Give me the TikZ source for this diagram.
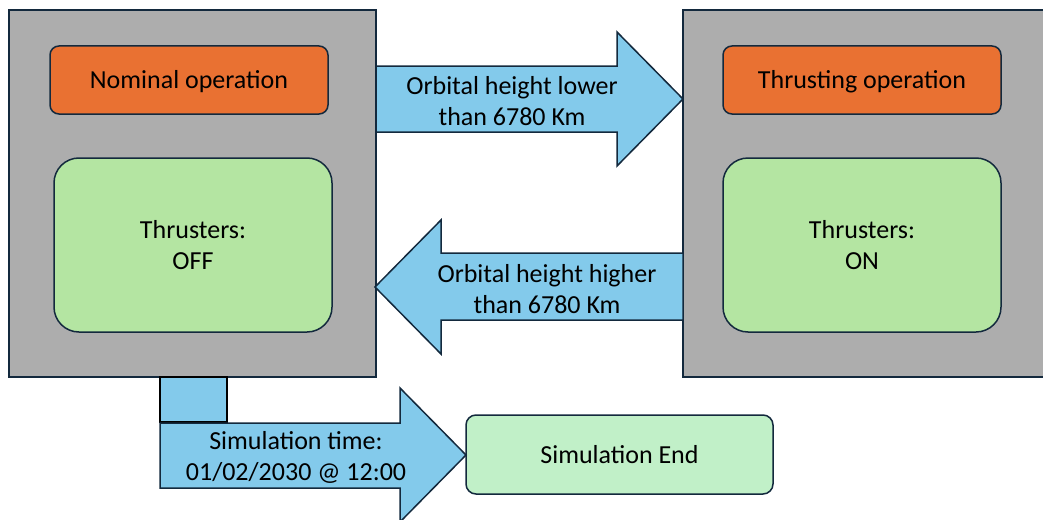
\documentclass[tikz,border=0pt]{standalone}
\usepackage{fontspec}
\setmainfont{Carlito}
\begin{document}
\begin{tikzpicture}[x=1pt,y=-1pt,
  outl/.style={draw=navy,line width=1.5pt},
  grayblk/.style={outl,fill=grayf},
  titlebox/.style={outl,fill=orangef,rounded corners=9pt,minimum width=278pt,minimum height=68pt,inner sep=0pt,text depth=0pt,text height=16pt},
  statebox/.style={outl,fill=greenf,rounded corners=25pt,minimum width=278pt,minimum height=174pt,inner sep=0pt,align=center},
  endbox/.style={outl,fill=lgreenf,rounded corners=10pt,minimum width=307pt,minimum height=79pt,inner sep=0pt,text depth=0pt,text height=17pt},
  arrowshape/.style={outl,fill=bluef,line join=miter},
  lbl/.style={align=center,font=\fontsize{26}{31}\selectfont,text=black,inner sep=0pt}
]
\definecolor{navy}{HTML}{13293D}
\definecolor{grayf}{HTML}{ADADAD}
\definecolor{orangef}{HTML}{E97132}
\definecolor{greenf}{HTML}{B4E5A2}
\definecolor{lgreenf}{HTML}{C1F0C8}
\definecolor{bluef}{HTML}{83CAEB}
\clip (0,0) rectangle (1043,519);
% gray containers
\draw[grayblk] (9,10) rectangle (376,377);
\draw[grayblk] (683,10) rectangle (1060,377);
% inner boxes
\node[lbl,titlebox] (nom) at (189,80) {Nominal operation};
\node[lbl,statebox] (off) at (193,245) {Thrusters:\\OFF};
\node[lbl,titlebox] (thr) at (862,80) {Thrusting operation};
\node[lbl,statebox] (on) at (862,245) {Thrusters:\\ON};
\node[lbl,endbox] (end) at (619.5,454.5) {Simulation End};
% arrow right
\draw[arrowshape] (376,66) -- (617,66) -- (617,32) -- (683,99) -- (617,166) -- (617,132) -- (376,132) -- cycle;
\node[lbl] (lower) at (512,101) {Orbital height lower\\than 6780 Km};
% arrow left
\draw[arrowshape] (683,253) -- (441,253) -- (441,220) -- (375,287) -- (441,354) -- (441,320) -- (683,320) -- cycle;
\node[lbl] (higher) at (547,289) {Orbital height higher\\than 6780 Km};
% bottom arrow
\draw[fill=bluef,draw=black,line width=1.6pt] (160,377) rectangle (227,422);
\draw[arrowshape] (160,423) -- (400,423) -- (400,388) -- (466,455) -- (400,522) -- (400,488) -- (160,488) -- cycle;
\node[lbl] (simtime) at (296,457) {Simulation time:\\01/02/2030 @ 12:00};
\end{tikzpicture}
\end{document}
